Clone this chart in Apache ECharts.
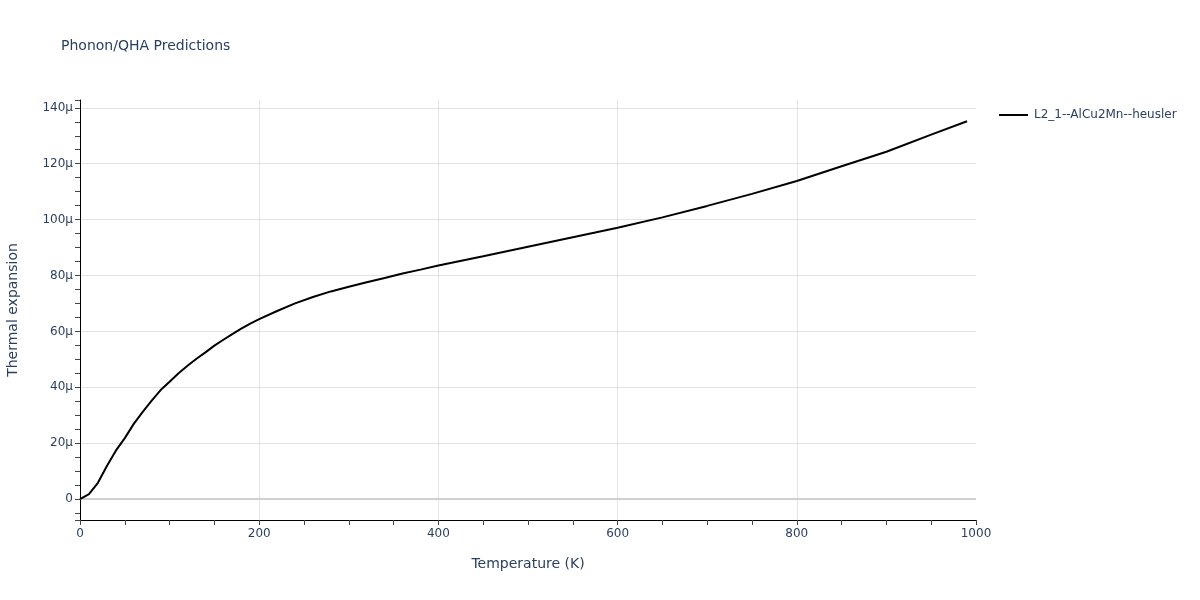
<!DOCTYPE html>
<html>
<head>
<meta charset="utf-8">
<script src="https://cdn.jsdelivr.net/npm/echarts@6/dist/echarts.min.js"></script>
<style>html,body{margin:0;padding:0;background:#fff}#c{width:1200px;height:600px}</style>
</head>
<body>
<div id="c"></div>
<script>
// Temperature (K)
const temperature = [0,10,20,30,40,50,60,70,80,90,100,110,120,130,140,150,160,170,180,190,200,220,240,260,280,300,320,340,360,380,400,450,500,550,600,650,700,750,800,850,900,950,990];
// Thermal expansion (in units of 1e-6, i.e. "μ")
const thermalExpansion = [0,1.8,5.8,11.8,17.3,21.8,26.9,31.2,35.2,39.0,42.0,45.0,47.7,50.2,52.5,54.9,57.0,59.0,61.0,62.8,64.4,67.3,70.0,72.3,74.3,76.0,77.6,79.1,80.7,82.1,83.6,86.9,90.3,93.7,97.1,100.8,104.9,109.2,113.8,119.1,124.3,130.4,135.2];
const seriesName = 'L2_1--AlCu2Mn--heusler';
const titleText = 'Phonon/QHA Predictions';
const xAxisName = 'Temperature (K)';
const yAxisName = 'Thermal expansion';

const textColor = '#2a3f5f';
const font = '"DejaVu Sans", Verdana, sans-serif';

const chart = echarts.init(document.getElementById('c'), null, {renderer: 'canvas'});
chart.setOption({
  animation: false,
  backgroundColor: '#fff',
  title: {
    text: titleText, left: 61, top: 39, padding: 0,
    textStyle: {fontFamily: font, fontSize: 14, fontWeight: 'normal', color: textColor}
  },
  legend: {
    left: 999, top: 109, padding: 0, itemWidth: 29, itemHeight: 2, itemGap: 10,
    icon: 'rect',
    textStyle: {fontFamily: font, fontSize: 12, color: textColor, padding: [0, 0, 0, 1]},
    data: [seriesName]
  },
  grid: {left: 80, right: 224, top: 100, bottom: 80, containLabel: false, outerBoundsMode: 'none'},
  xAxis: {
    type: 'value', min: 0, max: 1000, interval: 200,
    name: xAxisName, nameLocation: 'middle', nameGap: 37,
    nameTextStyle: {fontFamily: font, fontSize: 14, color: textColor},
    axisLine: {show: true, onZero: false, lineStyle: {color: '#000', width: 1}},
    axisTick: {show: true, length: 5, lineStyle: {color: '#444'}},
    minorTick: {show: true, splitNumber: 4, length: 5, lineStyle: {color: '#444'}},
    axisLabel: {fontFamily: font, fontSize: 12, color: textColor, margin: 8, formatter: v => String(v)},
    splitLine: {show: true, showMinLine: false, showMaxLine: false, lineStyle: {color: '#e3e3e3', width: 1}}
  },
  yAxis: {
    type: 'value', min: -7.5, max: 142.8, splitNumber: 7,
    name: yAxisName, nameLocation: 'middle', nameGap: 60,
    nameTextStyle: {fontFamily: font, fontSize: 14, color: textColor},
    axisLine: {show: true, onZero: false, lineStyle: {color: '#000', width: 1}},
    axisTick: {show: true, length: 5, lineStyle: {color: '#444'}},
    minorTick: {show: true, splitNumber: 4, length: 5, lineStyle: {color: '#444'}},
    axisLabel: {
      fontFamily: font, fontSize: 12, color: textColor, margin: 7,
      showMinLabel: false, showMaxLabel: false,
      formatter: v => (Math.abs(v % 20) > 1e-6 ? '' : (v === 0 ? '0' : v + 'μ'))
    },
    splitLine: {show: true, showMinLine: false, showMaxLine: false, lineStyle: {color: '#e3e3e3', width: 1}}
  },
  series: [{
    name: seriesName,
    type: 'line',
    data: temperature.map((t, i) => [t, thermalExpansion[i]]),
    symbol: 'none',
    smooth: false,
    lineStyle: {color: '#000', width: 2},
    itemStyle: {color: '#000'},
    z: 3,
    markLine: {
      silent: true, symbol: 'none', label: {show: false},
      lineStyle: {color: '#cfcfcf', width: 2, type: 'solid'},
      data: [{yAxis: 0}],
      z: 1
    }
  }]
});
</script>
</body>
</html>
